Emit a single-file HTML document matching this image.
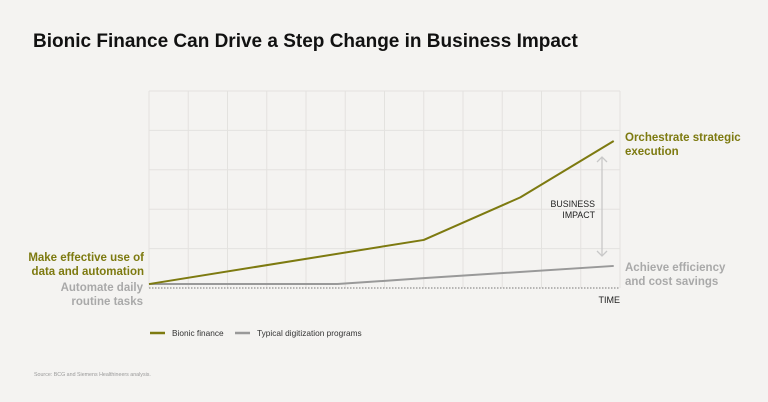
<!DOCTYPE html>
<html><head><meta charset="utf-8"><style>
body{margin:0;background:#f4f3f1;width:768px;height:402px;overflow:hidden;font-family:"Liberation Sans",sans-serif;}
svg{position:absolute;left:0;top:0}
</style></head><body>
<svg width="768" height="402">
<text x="33" y="47" font-size="19" font-weight="bold" fill="#111">Bionic Finance Can Drive a Step Change in Business Impact</text>
<g id="grid"></g>
<line x1="149" y1="288" x2="620" y2="288" stroke="#777" stroke-width="1" stroke-dasharray="1.5,1.5"/>
<text x="620" y="303" font-size="9" text-anchor="end" fill="#222">TIME</text>
<g id="series"></g>
<g stroke="#c8c8c8" stroke-width="1.3" fill="none">
<line x1="602" y1="157" x2="602" y2="256"/>
<polyline points="597,162 602,157 607,162"/>
<polyline points="597,251 602,256 607,251"/>
</g>
<text font-size="8.8" fill="#222" text-anchor="end"><tspan x="595" y="207">BUSINESS</tspan><tspan x="595" y="218">IMPACT</tspan></text>
<text font-size="11.5" font-weight="bold" fill="#7d7a10"><tspan x="625" y="141">Orchestrate strategic</tspan><tspan x="625" y="155">execution</tspan></text>
<text font-size="11.5" font-weight="bold" fill="#a9a9a9"><tspan x="625" y="271">Achieve efficiency</tspan><tspan x="625" y="285">and cost savings</tspan></text>
<text font-size="11.5" font-weight="bold" fill="#7d7a10" text-anchor="end"><tspan x="144" y="261">Make effective use of</tspan><tspan x="144" y="275">data and automation</tspan></text>
<text font-size="11.5" font-weight="bold" fill="#a9a9a9" text-anchor="end"><tspan x="143" y="291">Automate daily</tspan><tspan x="143" y="305">routine tasks</tspan></text>
<g>
<line x1="150" y1="333" x2="165" y2="333" stroke="#7d7a10" stroke-width="2.5"/>
<text x="172" y="336" font-size="8.3" fill="#333">Bionic finance</text>
<line x1="235" y1="333" x2="250" y2="333" stroke="#999" stroke-width="2.5"/>
<text x="257" y="336" font-size="8.3" fill="#333">Typical digitization programs</text>
</g>
<text x="34" y="376" font-size="5.3" fill="#999">Source: BCG and Siemens Healthineers analysis.</text>
</svg>
<script>
const bionicT=[0,7.0,9.46,11.84];
const bionicV=[2,24.4,46,74.6];
const typicalT=[0,4.8,7.0,11.84];
const typicalV=[2,2,5,11.2];
const xCols=12, yRows=5, yMax=100;
const X0=149,X1=620,Y0=288,Y1=91;
const xs=t=>X0+t*(X1-X0)/xCols;
const ys=v=>Y0-v*(Y0-Y1)/yMax;
const NS="http://www.w3.org/2000/svg";
const grid=document.getElementById('grid');
for(let i=0;i<=xCols;i++){
  const l=document.createElementNS(NS,'line');
  l.setAttribute('x1',xs(i));l.setAttribute('x2',xs(i));l.setAttribute('y1',Y1);l.setAttribute('y2',Y0);
  l.setAttribute('stroke','#e3e2df');l.setAttribute('stroke-width','1');
  
  
  grid.appendChild(l);
}
for(let j=1;j<=yRows;j++){
  const l=document.createElementNS(NS,'line');
  const y=ys(j*yMax/yRows);
  l.setAttribute('x1',X0);l.setAttribute('x2',X1);l.setAttribute('y1',y);l.setAttribute('y2',y);
  l.setAttribute('stroke','#e3e2df');l.setAttribute('stroke-width','1');
  
  
  grid.appendChild(l);
}
const ser=document.getElementById('series');
function line(T,V,color){
  const p=document.createElementNS(NS,'polyline');
  p.setAttribute('points',T.map((t,i)=>xs(t)+','+ys(V[i])).join(' '));
  p.setAttribute('fill','none');p.setAttribute('stroke',color);p.setAttribute('stroke-width','2');
  p.setAttribute('stroke-linejoin','round');
  return p;
}
const pt=line(typicalT,typicalV,'#999');


ser.appendChild(pt);
const pb=line(bionicT,bionicV,'#7d7a10');


ser.appendChild(pb);
</script>
</body></html>
